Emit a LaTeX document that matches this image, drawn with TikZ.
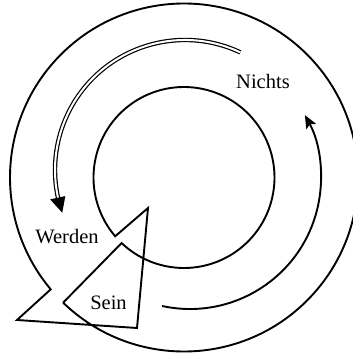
\documentclass[tikz,border=0pt]{standalone}
\usepackage{fontspec}
\setmainfont{Liberation Serif}
\usetikzlibrary{arrows.meta,calc}
\begin{document}
\begin{tikzpicture}[x=1pt,y=1pt,
  mainline/.style={line width=1.9pt, line join=miter},
  label/.style={font=\fontsize{20.5}{24}\selectfont, inner sep=0pt}]
\useasboundingbox (0,0) rectangle (353,354);
% centres
\coordinate (C) at (184,176.5);
\coordinate (Cd) at (185,184);
\coordinate (Cr) at (190,176);
% arrow-shaped ring
\coordinate (P1) at (17,34);
\coordinate (P2) at (137,26);
\coordinate (P3) at (148,146);
\draw[mainline] (C) ++(226:174) coordinate (E)
  arc[start angle=226, end angle=580, radius=174]
  -- (P1) -- (P2) -- (P3)
  -- ($(C)+(220.5:90.5)$) coordinate (B)
  arc[start angle=220.5, end angle=-133.6, radius=90.5]
  -- (E);
% double arrow (Werden)
\draw[double, line width=1.2pt, double distance=2pt]
  (Cd) ++(64.8:130) arc[start angle=64.8, end angle=193.5, radius=130];
\fill ($(Cd)+(199.2:130)$) coordinate (T1)
  -- ($(Cd)+(192.3:122.5)$) -- ($(Cd)+(192.3:138)$) -- cycle;
% single arrow (Nichts)
\draw[mainline, -{Stealth[length=13pt,width=11pt,inset=2.5pt]}]
  (Cr) ++(257.7:131) arc[start angle=257.7, end angle=388.7, radius=131];
% labels
\node[label] (nichts) at (263,272.3) {Nichts};
\node[label] (werden) at (67,117.5) {Werden};
\node[label] (sein) at (108.5,51.5) {Sein};
\end{tikzpicture}
\end{document}
